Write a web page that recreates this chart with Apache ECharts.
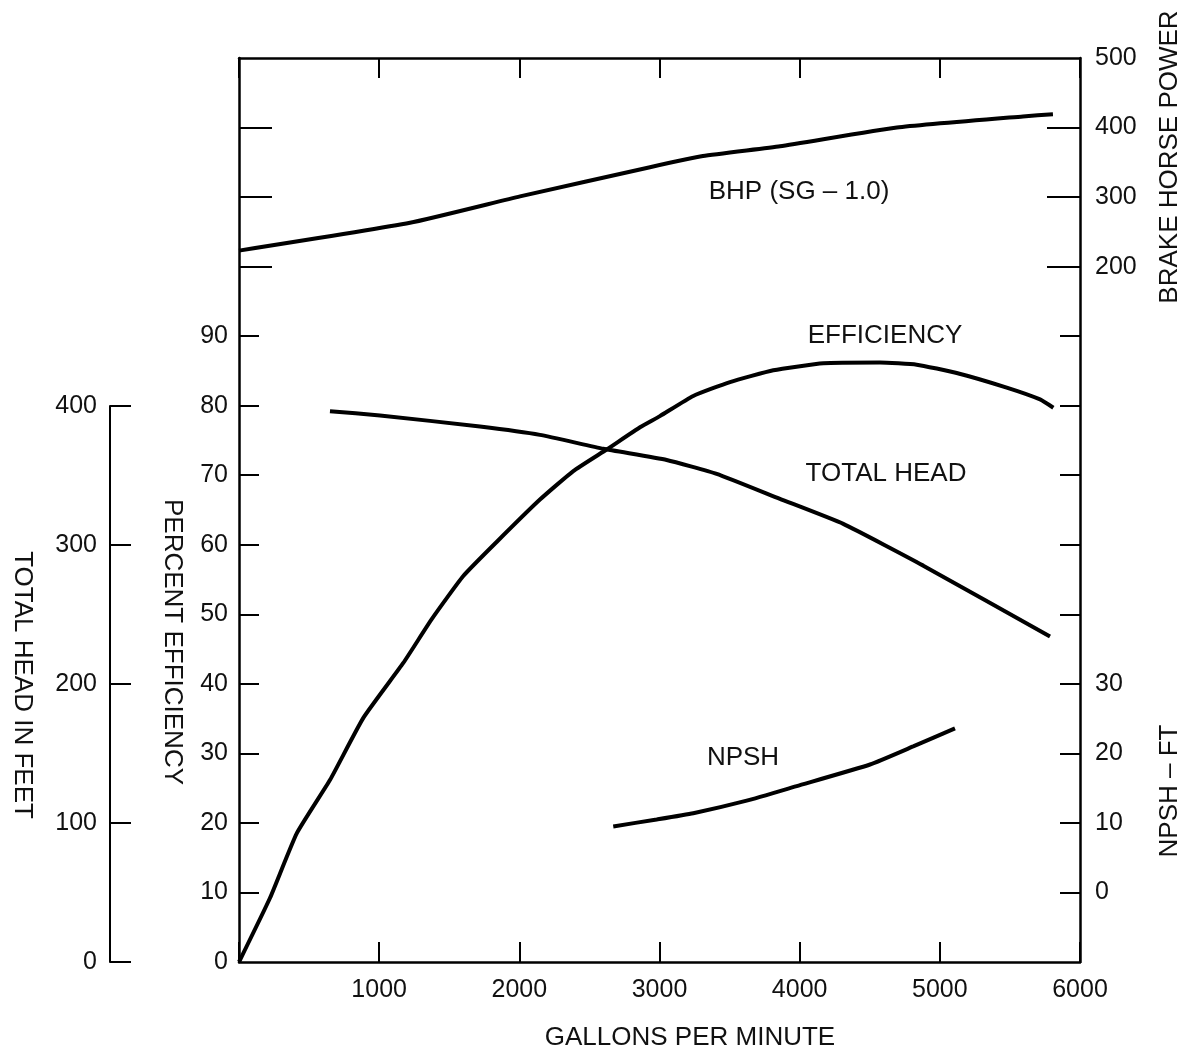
<!DOCTYPE html>
<html>
<head>
<meta charset="utf-8">
<script src="https://cdn.jsdelivr.net/npm/echarts@6/dist/echarts.min.js"></script>
<style>
html,body{margin:0;padding:0;background:#fff;}
#chart{width:1190px;height:1051px;}
</style>
</head>
<body>
<div id="chart"></div>
<script>
// ---- data ----
const gpmBhp = [0, 1220, 2005, 2932, 3310, 3860, 4694, 5593, 5807];
const bhp    = [223, 263, 301, 343, 359, 373, 400, 416, 419];

const gpmEff = [0, 221, 412, 650, 887, 1172, 1375, 1600, 1838, 2147, 2385, 2623, 2861, 3003, 3241, 3503, 3812, 4169, 4573, 4835, 5120, 5477, 5715, 5810];
const eff    = [0, 9.2, 18.5, 26.2, 35.1, 43.0, 49.3, 55.5, 60.4, 66.5, 70.6, 73.7, 76.9, 78.5, 81.4, 83.4, 85.1, 86.1, 86.2, 85.9, 84.7, 82.6, 80.9, 79.7];

const gpmHead = [649, 1006, 1719, 2147, 2599, 3051, 3408, 3859, 4311, 4882, 5786];
const head    = [396, 393, 385, 379, 369, 361, 351, 333, 315, 285, 234];

const gpmNpsh = [2670, 2980, 3241, 3622, 3979, 4502, 4810, 5108];
const npsh    = [9.5, 10.5, 11.4, 13.2, 15.3, 18.4, 21.0, 23.6];

const xTickLabels    = [1000, 2000, 3000, 4000, 5000, 6000];
const pctLabels      = [0, 10, 20, 30, 40, 50, 60, 70, 80, 90];
const pctTicks       = [10, 20, 30, 40, 50, 60, 70, 80, 90];
const bhpLabels      = [200, 300, 400, 500];
const bhpTicks       = [200, 300, 400];
const npshLabels     = [0, 10, 20, 30];
const npshTicks      = [0, 10, 20, 30, 40, 50, 60, 70, 80];
const headLabels     = [0, 100, 200, 300, 400];

// ---- helpers ----
const zip = (xs, ys) => xs.map((x, i) => [x, ys[i]]);
const FONT = '"Liberation Sans", Arial, sans-serif';
const INK = '#111';
const plain = v => String(v);
const lineCommon = {
  type: 'line', showSymbol: false, smooth: 0.15, silent: true,
  lineStyle: { color: '#000', width: 4 }, z: 5
};

const chart = echarts.init(document.getElementById('chart'), null, { renderer: 'canvas' });

const axisLine = { show: true, onZero: false, lineStyle: { color: '#000', width: 2.5 } };
const tickStyle = { color: '#000', width: 2 };
const lbl = (vals, margin) => ({ customValues: vals, formatter: plain, fontSize: 25, fontFamily: FONT, color: INK, margin: margin });

const option = {
  animation: false,
  backgroundColor: '#fff',
  grid: [
    { left: 239, right: 110, top: 58, bottom: 89 },
    { left: 239, right: 110, top: 406, bottom: 89 }
  ],
  xAxis: [
    {
      gridIndex: 0, type: 'value', position: 'bottom', min: 0, max: 6000, interval: 1000,
      axisLine: axisLine,
      axisTick: { show: true, inside: true, length: 20, lineStyle: tickStyle },
      axisLabel: lbl(xTickLabels, 16),
      splitLine: { show: false }
    },
    {
      gridIndex: 0, type: 'value', position: 'top', min: 0, max: 6000, interval: 1000,
      axisLine: axisLine,
      axisTick: { show: true, inside: true, length: 20, lineStyle: tickStyle },
      axisLabel: { show: false },
      splitLine: { show: false }
    },
    { gridIndex: 1, type: 'value', min: 0, max: 6000, show: false }
  ],
  yAxis: [
    { // 0: percent efficiency (left)
      gridIndex: 0, type: 'value', position: 'left', min: 0, max: 130, interval: 10,
      axisLine: axisLine,
      axisTick: { show: true, inside: true, length: 20, customValues: pctTicks, lineStyle: tickStyle },
      axisLabel: lbl(pctLabels, 11),
      splitLine: { show: false }
    },
    { // 1: BHP long ticks on left side
      gridIndex: 0, type: 'value', position: 'left', min: -800, max: 500, interval: 100,
      axisLine: { show: false, onZero: false },
      axisTick: { show: true, inside: true, length: 33, customValues: bhpTicks, lineStyle: tickStyle },
      axisLabel: { show: false },
      splitLine: { show: false }
    },
    { // 2: BHP (right)
      gridIndex: 0, type: 'value', position: 'right', min: -800, max: 500, interval: 100,
      axisLine: axisLine,
      axisTick: { show: true, inside: true, length: 33, customValues: bhpTicks, lineStyle: tickStyle },
      axisLabel: lbl(bhpLabels, 15),
      splitLine: { show: false }
    },
    { // 3: NPSH (right)
      gridIndex: 0, type: 'value', position: 'right', min: -10, max: 120, interval: 10,
      axisLine: { show: false, onZero: false },
      axisTick: { show: true, inside: true, length: 20, customValues: npshTicks, lineStyle: tickStyle },
      axisLabel: lbl(npshLabels, 15),
      splitLine: { show: false }
    },
    { // 4: total head scale for plotting (hidden)
      gridIndex: 0, type: 'value', min: 0, max: 650, show: false
    },
    { // 5: total head visible axis (0-400 ft)
      gridIndex: 1, type: 'value', position: 'left', offset: 129, min: 0, max: 400, interval: 100,
      axisLine: { show: true, onZero: false, lineStyle: { color: '#000', width: 2 } },
      axisTick: { show: true, inside: true, length: 21, lineStyle: tickStyle },
      axisLabel: lbl(headLabels, 13),
      splitLine: { show: false }
    }
  ],
  series: [
    Object.assign({}, lineCommon, { name: 'BHP', xAxisIndex: 0, yAxisIndex: 2, data: zip(gpmBhp, bhp) }),
    Object.assign({}, lineCommon, { name: 'Efficiency', xAxisIndex: 0, yAxisIndex: 0, data: zip(gpmEff, eff) }),
    Object.assign({}, lineCommon, { name: 'Total Head', xAxisIndex: 0, yAxisIndex: 4, data: zip(gpmHead, head) }),
    Object.assign({}, lineCommon, { name: 'NPSH', xAxisIndex: 0, yAxisIndex: 3, data: zip(gpmNpsh, npsh) })
  ],
  graphic: [
    mkText('BHP (SG – 1.0)', 799, 192, 0),
    mkText('EFFICIENCY', 885, 336, 0),
    mkText('TOTAL HEAD', 886, 474, 0),
    mkText('NPSH', 743, 758, 0),
    mkText('GALLONS PER MINUTE', 690, 1038, 0),
    mkText('PERCENT EFFICIENCY', 172, 642, -Math.PI / 2),
    mkText('TOTAL HEAD IN FEET', 22, 685, -Math.PI / 2),
    mkText('BRAKE HORSE POWER', 1170, 157, Math.PI / 2),
    mkText('NPSH – FT', 1170, 791, Math.PI / 2)
  ]
};

function mkText(t, x, y, rot) {
  return {
    type: 'text', x: x, y: y, rotation: rot, z: 10,
    style: {
      text: t, x: 0, y: 0, font: '26px ' + FONT, fill: INK,
      align: 'center', verticalAlign: 'middle',
      textAlign: 'center', textVerticalAlign: 'middle'
    }
  };
}

chart.setOption(option);
</script>
</body>
</html>
